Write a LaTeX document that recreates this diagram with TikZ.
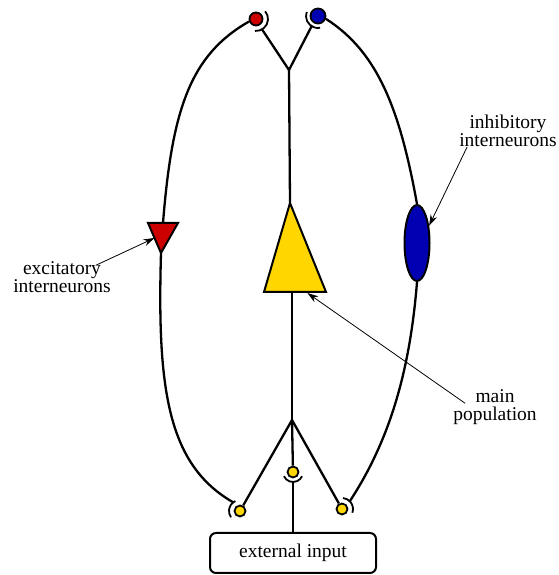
\documentclass[tikz,border=0pt]{standalone}
\usepackage{fontspec}
\setmainfont{Liberation Serif}
\usetikzlibrary{shapes.geometric,arrows.meta,calc}
\definecolor{excred}{RGB}{204,0,0}
\definecolor{inhblue}{RGB}{0,0,178}
\definecolor{popyellow}{RGB}{255,214,0}
\tikzset{
  fibre/.style={line width=2.3pt},
  bouton/.style={circle,draw,line width=1.8pt,inner sep=0pt},
  cleft/.style={line width=1.8pt},
  pointer/.style={line width=0.8pt,-{Stealth[length=11pt,width=7pt]}},
  caption/.style={align=center,font=\fontsize{19.5}{18}\selectfont,inner sep=0pt},
}
\begin{document}
\begin{tikzpicture}[x=1pt,y=1pt]
  \useasboundingbox (0,0) rectangle (558,575);
  % terminals
  \node[bouton,fill=excred,minimum size=13pt] (exct) at (256,556) {};
  \node[bouton,fill=inhblue,minimum size=15pt] (inht) at (318,559) {};
  \node[bouton,fill=popyellow,minimum size=11pt] (yl) at (240,64) {};
  \node[bouton,fill=popyellow,minimum size=11pt] (yc) at (293,103) {};
  \node[bouton,fill=popyellow,minimum size=11pt] (yr) at (342,66) {};
  % synaptic clefts
  \draw[cleft] ($(exct)+(40:12)$) arc[start angle=40,end angle=-95,radius=12];
  \draw[cleft] ($(inht)+(160:12)$) arc[start angle=160,end angle=280,radius=12];
  \draw[cleft] ($(yl)+(115:11)$) arc[start angle=115,end angle=215,radius=11];
  \draw[cleft] ($(yc)+(205:10)$) arc[start angle=205,end angle=335,radius=10];
  \draw[cleft] ($(yr)+(-20:11)$) arc[start angle=-20,end angle=85,radius=11];
  \coordinate (exsyn) at ($(exct)+(-60:12)$);
  \coordinate (inhsyn) at ($(inht)+(238:12)$);
  \coordinate (ylsyn) at ($(yl)+(128:11)$);
  \coordinate (ycsyn) at ($(yc)+(270:10)$);
  \coordinate (yrsyn) at ($(yr)+(45:11)$);
  % cell bodies
  \draw[line width=2pt,fill=popyellow] (290,372) coordinate (mtop) -- (326,283) coordinate (mbr)
    -- (264,283) coordinate (mbl) -- cycle;   %main
  \coordinate (mbot) at (292,283);
  \draw[line width=2pt,fill=excred] (148,352) coordinate (etl) -- (178,352)
    -- (161,322) coordinate (ebot) -- cycle;   %excitatory
  \coordinate (etop) at (163,352);
  \node[ellipse,draw,line width=2pt,fill=inhblue,minimum width=25pt,minimum height=76pt,
    inner sep=0pt] (inh) at (417,332) {};   %inhibitory
  % fibres
  \coordinate (jtop) at (289,505);
  \coordinate (jbot) at (292,155);
  \draw[fibre] (exsyn) -- (jtop) -- (inhsyn);
  \draw[fibre] (jtop) -- (mtop);
  \draw[fibre] (mbot) -- (jbot);
  \draw[fibre] (jbot) -- (yl);
  \draw[fibre] (jbot) -- (yc);
  \draw[fibre] (jbot) -- (yr);
  \draw[fibre] (exct.200) .. controls (190,520) and (172,465) .. (etop);
  \draw[fibre] (inht.-20) .. controls (378,523) and (400,465) .. (inh.north);
  \draw[fibre] (ebot) .. controls (157,185) and (168,110) .. (ylsyn);
  \draw[fibre] (inh.south) .. controls (410,205) and (390,135) .. (yrsyn);
  % input
  \node[draw,line width=2pt,rounded corners=6pt,minimum width=166pt,minimum height=40pt,
    caption] (ext) at (293,22) {external input};
  \draw[fibre] (ycsyn) -- (ext.north);
  % labels
  \node[caption] (exclab) at (62,298) {excitatory\\interneurons};
  \draw[pointer] ($(exclab.north east)+(-15,-4)$) -- ($(etl)!0.5!(ebot)$);
  \node[caption] (inhlab) at (508,444) {inhibitory\\interneurons};
  \draw[pointer] ($(inhlab.south west)+(8,0)$) -- (inh.55);
  \node[caption] (mainlab) at (495,168) {main\\population};
  \draw[pointer] ($(mainlab.north west)+(12,-14)$) -- ($(mbl)!0.7!(mbr)+(0,-1)$);
\end{tikzpicture}
\end{document}
